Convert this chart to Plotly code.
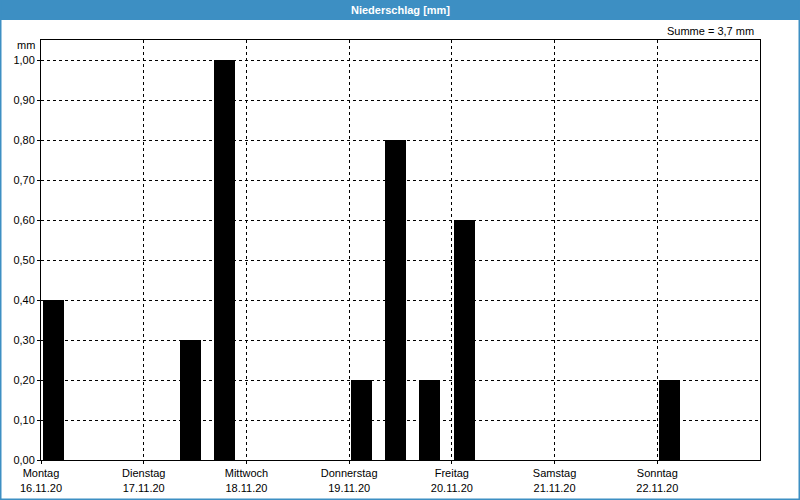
import plotly.graph_objects as go

# ---- data ----
day_names = ["Montag", "Dienstag", "Mittwoch", "Donnerstag", "Freitag", "Samstag", "Sonntag"]
day_dates = ["16.11.20", "17.11.20", "18.11.20", "19.11.20", "20.11.20", "21.11.20", "22.11.20"]
# start hour (from Mon 16.11.20 00:00) of each 8-hour precipitation interval
interval_start_h = [0, 32, 40, 72, 80, 88, 96, 144]
precip_mm = [0.4, 0.3, 1.0, 0.2, 0.8, 0.2, 0.6, 0.2]
y_ticks = [0.0, 0.1, 0.2, 0.3, 0.4, 0.5, 0.6, 0.7, 0.8, 0.9, 1.0]

# ---- styling / layout constants ----
W, H = 800, 500
ML, MR, MT, MB = 41, 40, 40, 40
PW, PH = W - ML - MR, H - MT - MB
BLUE = "#3d8fc3"
FONT = "Liberation Sans, Arial, sans-serif"
bar_offset_h = 2.85
bar_width_h = 4.9

total = sum(precip_mm)

fig = go.Figure()
fig.add_trace(go.Bar(
    x=[s + bar_offset_h for s in interval_start_h],
    y=precip_mm,
    width=[bar_width_h] * len(precip_mm),
    marker=dict(color="#000000", line=dict(width=0)),
    hoverinfo="skip",
))

tickvals = [i * 24 for i in range(len(day_names))]
ticktext = [f"{d}<br>{t}" for d, t in zip(day_names, day_dates)]

fig.update_layout(
    width=W, height=H,
    margin=dict(l=ML, r=MR, t=MT, b=MB, pad=0, autoexpand=False),
    paper_bgcolor="#ffffff",
    plot_bgcolor="#ffffff",
    showlegend=False,
    separators=",.",
    font=dict(family=FONT, size=11, color="#000000"),
    bargap=0,
    xaxis=dict(
        range=[0, 24 * len(day_names)],
        tickvals=tickvals,
        ticktext=ticktext,
        automargin=False,
        showgrid=True, gridcolor="#000000", gridwidth=1, griddash="3px,3px",
        showline=True, linecolor="#000000", linewidth=1, mirror=True,
        ticks="outside", ticklen=3, tickcolor="#000000",
        zeroline=False,
        tickfont=dict(family=FONT, size=11, color="#000000"),
    ),
    yaxis=dict(
        range=[0, 1.05],
        tickvals=y_ticks,
        tickformat=".2f",
        automargin=False,
        showgrid=True, gridcolor="#000000", gridwidth=1, griddash="3px,3px",
        showline=True, linecolor="#000000", linewidth=1, mirror=True,
        ticks="outside", ticklen=3, tickcolor="#000000",
        zeroline=False,
        tickfont=dict(family=FONT, size=11, color="#000000"),
    ),
    shapes=[
        dict(type="rect", xref="paper", yref="paper",
             x0=-ML / PW, x1=1 + MR / PW, y0=(PH + MT - 20) / PH, y1=(PH + MT) / PH,
             fillcolor=BLUE, line=dict(width=0), layer="above"),
        dict(type="rect", xref="paper", yref="paper",
             x0=-ML / PW + 0.5 / PW, x1=1 + (MR - 0.5) / PW,
             y0=-(MB - 0.5) / PH, y1=(PH + MT) / PH,
             fillcolor="rgba(0,0,0,0)", line=dict(color=BLUE, width=2), layer="above"),
    ],
    annotations=[
        dict(text="<b>Niederschlag [mm]</b>", xref="paper", yref="paper",
             x=(W / 2 - ML) / PW, y=(PH + MT - 10) / PH, xanchor="center", yanchor="middle",
             showarrow=False, font=dict(family=FONT, size=11, color="#ffffff")),
        dict(text=f"Summe = {total:.1f}".replace(".", ",") + " mm", xref="paper", yref="paper",
             x=(756 - ML) / PW, y=(PH + MT - 31) / PH, xanchor="right", yanchor="middle",
             showarrow=False, font=dict(family=FONT, size=11, color="#000000")),
        dict(text="mm", xref="paper", yref="paper",
             x=-4 / PW, y=(PH + MT - 45) / PH, xanchor="right", yanchor="middle",
             showarrow=False, font=dict(family=FONT, size=11, color="#000000")),
    ],
)

fig.write_html("out.html")
